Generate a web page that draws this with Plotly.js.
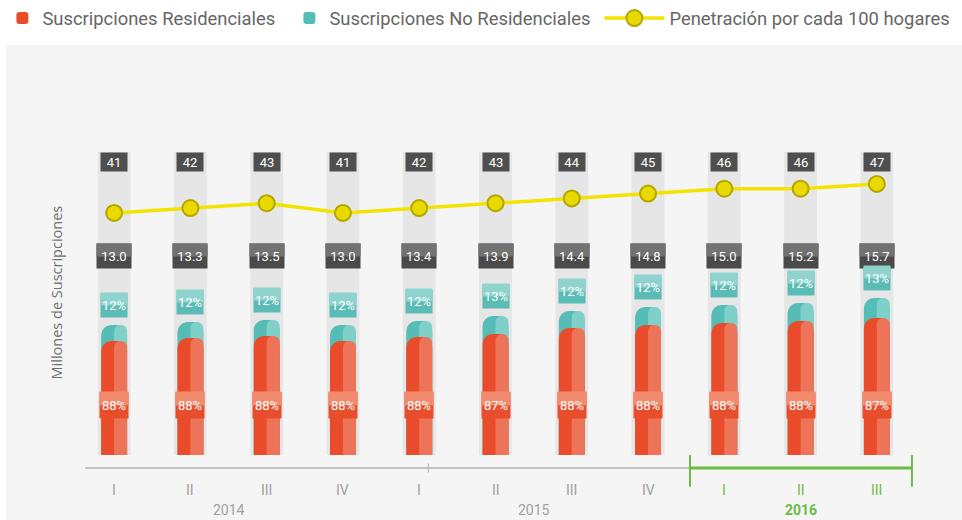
<!DOCTYPE html>
<html>
<head>
<meta charset="utf-8">
<script src="https://cdn.plot.ly/plotly-3.0.1.min.js"></script>
<style>
  html, body { margin: 0; padding: 0; background: #ffffff; }
  #chart { width: 962px; height: 520px; }
</style>
</head>
<body>
<div id="chart"></div>
<script>
// ---- data ----
const quarters = ["I", "II", "III", "IV", "I", "II", "III", "IV", "I", "II", "III"];
const years = ["2014", "2014", "2014", "2014", "2015", "2015", "2015", "2015", "2016", "2016", "2016"];
const totalSubs = [13.0, 13.3, 13.5, 13.0, 13.4, 13.9, 14.4, 14.8, 15.0, 15.2, 15.7];
const residentialSubs = [11.4, 11.7, 11.9, 11.4, 11.8, 12.1, 12.7, 13.0, 13.2, 13.4, 13.7];
const residentialPct = [88, 88, 88, 88, 88, 87, 88, 88, 88, 88, 87];
const nonResidentialPct = [12, 12, 12, 12, 12, 13, 12, 12, 12, 12, 13];
const penetration = [41, 42, 43, 41, 42, 43, 44, 45, 46, 46, 47];
const yearLabels = ["2014", "2015", "2016"];

// ---- layout helpers ----
const cats = quarters.map((q, i) => years[i] + " " + q);
const yMax = 30.3;
const barW = 0.34, halfW = 0.17, colW = 0.43;

const RED_D = "#e84c2b", RED_L = "#ee7459";
const TEAL_D = "#55bdb6", TEAL_L = "#80d0ca";
const GREEN = "#6cbb45";

const traces = [];
// gray column backgrounds
traces.push({
  type: "bar", x: cats, y: cats.map(() => yMax), width: colW, xaxis: "x",
  marker: { color: "#e6e6e6", line: { width: 0 } },
  showlegend: false, hoverinfo: "skip"
});
// teal (total) dark
traces.push({
  type: "bar", x: cats, y: totalSubs, width: barW, xaxis: "x2",
  name: "Suscripciones No Residenciales", legend: "legend2",
  marker: { color: TEAL_D, cornerradius: 10, line: { width: 0 } }
});
// teal light half
traces.push({
  type: "bar", x: cats, y: totalSubs, width: halfW, offset: 0, xaxis: "x3",
  marker: { color: TEAL_L, cornerradius: 8, line: { width: 0 } },
  showlegend: false, hoverinfo: "skip"
});
// red dark
traces.push({
  type: "bar", x: cats, y: residentialSubs, width: barW, xaxis: "x4",
  name: "Suscripciones Residenciales", legend: "legend",
  marker: { color: RED_D, cornerradius: 10, line: { width: 0 } }
});
// red light half
traces.push({
  type: "bar", x: cats, y: residentialSubs, width: halfW, offset: 0, xaxis: "x5",
  marker: { color: RED_L, cornerradius: 8, line: { width: 0 } },
  showlegend: false, hoverinfo: "skip"
});
// penetration line
traces.push({
  type: "scatter", mode: "lines+markers", x: cats, y: penetration, xaxis: "x", yaxis: "y2",
  name: "Penetración por cada 100 hogares", legend: "legend3",
  line: { color: "#f3e300", width: 3.5 },
  marker: { size: 16, color: "#e9d900", line: { color: "#b4a600", width: 2 } }
});

const annotations = [];
const boxFont = { family: "Roboto, 'Open Sans', sans-serif", size: 13, color: "#ffffff" };

// two-tone label box: bottom colour full box, lighter top half, then text
function labelBox(x, y, yref, yshift, w, h, text, topColor, botColor) {
  const base = { x: x, xref: "x", y: y, yref: yref, xanchor: "center", yanchor: "middle",
                 showarrow: false, borderpad: 0 };
  annotations.push(Object.assign({}, base, { yshift: yshift, text: " ", bgcolor: botColor,
    width: w, height: h, font: boxFont }));
  if (topColor) {
    annotations.push(Object.assign({}, base, { yshift: yshift + h / 4, text: " ",
      bgcolor: topColor, width: w, height: h / 2, font: { size: 6 } }));
  }
  annotations.push(Object.assign({}, base, { yshift: yshift, text: text,
    width: w, height: h, font: boxFont }));
}

cats.forEach((c, i) => {
  labelBox(i, 0.967, "paper", 0, 26, 18, String(penetration[i]), null, "#4f4f4f");
  labelBox(i, 0.657, "paper", 0, 34, 24, totalSubs[i].toFixed(1), "#727272", "#4a4a4a");
  labelBox(i, totalSubs[i], "y", 20, 26, 23, nonResidentialPct[i] + "%", "#8fd3ce", "#5bbcb5");
  labelBox(i, 0.165, "paper", 0, 28, 25, residentialPct[i] + "%", "#f28a6e", "#e84e2b");
  // quarter label
  annotations.push({
    x: i, xref: "x", y: -0.115, yref: "paper", xanchor: "center", yanchor: "middle",
    text: quarters[i], showarrow: false,
    font: { family: "Roboto, sans-serif", size: 14, color: years[i] === "2016" ? GREEN : "#a0a0a0" }
  });
});
// year labels (centered on their quarters)
yearLabels.forEach(yr => {
  const idx = years.map((y, i) => y === yr ? i : -1).filter(i => i >= 0);
  const mid = (idx[0] + idx[idx.length - 1]) / 2;
  annotations.push({
    x: mid, xref: "x", y: -0.182, yref: "paper", xanchor: "center", yanchor: "middle",
    text: yr === "2016" ? "<b>" + yr + "</b>" : yr, showarrow: false,
    font: { family: "Roboto, sans-serif", size: 14, color: yr === "2016" ? GREEN : "#a0a0a0" }
  });
});
// y axis title
annotations.push({
  x: -0.0232, xref: "paper", xanchor: "center", y: 0.535, yref: "paper", yanchor: "middle",
  text: "Millones de Suscripciones",
  textangle: -90, showarrow: false,
  font: { family: "'Open Sans', sans-serif", size: 14.5, color: "#707070" }
});

const shapes = [
  // light panel
  { type: "rect", xref: "paper", yref: "paper", x0: -0.0834, x1: 1.06, y0: -0.22, y1: 1.353,
    fillcolor: "#f5f5f5", line: { width: 0 }, layer: "below" },
  // gray axis line
  { type: "line", xref: "x", yref: "paper", x0: -0.38, x1: 7.55, y0: -0.043, y1: -0.043,
    line: { color: "#c4c4c4", width: 2 } },
  { type: "line", xref: "x", yref: "paper", x0: 4.12, x1: 4.12, y0: -0.028, y1: -0.058,
    line: { color: "#b0b0b0", width: 1 } },
  // green 2016 bracket
  { type: "line", xref: "x", yref: "paper", x0: 7.55, x1: 10.46, y0: -0.043, y1: -0.043,
    line: { color: GREEN, width: 3 } },
  { type: "line", xref: "x", yref: "paper", x0: 7.55, x1: 7.55, y0: 0.0, y1: -0.105,
    line: { color: GREEN, width: 2 } },
  { type: "line", xref: "x", yref: "paper", x0: 10.46, x1: 10.46, y0: 0.0, y1: -0.105,
    line: { color: GREEN, width: 2 } }
];

const hiddenX = { type: "category", range: [-0.5, 10.5], showticklabels: false, showgrid: false,
                  zeroline: false, showline: false, ticks: "", fixedrange: true };

const legendBase = {
  orientation: "h", xanchor: "left", y: 1.503, yanchor: "top",
  font: { family: "Roboto, sans-serif", size: 18.4, color: "#666666" },
  bgcolor: "rgba(0,0,0,0)"
};
const pxToPaperX = px => (px - 76) / 839;

const layout = {
  width: 962, height: 520,
  margin: { l: 76, r: 47, t: 152, b: 65, autoexpand: false },
  paper_bgcolor: "#ffffff",
  plot_bgcolor: "rgba(0,0,0,0)",
  barmode: "overlay",
  xaxis: Object.assign({}, hiddenX),
  xaxis2: Object.assign({ overlaying: "x" }, hiddenX),
  xaxis3: Object.assign({ overlaying: "x" }, hiddenX),
  xaxis4: Object.assign({ overlaying: "x" }, hiddenX),
  xaxis5: Object.assign({ overlaying: "x" }, hiddenX),
  yaxis: { range: [0, yMax], showticklabels: false, showgrid: false, zeroline: false,
           showline: false, ticks: "", fixedrange: true },
  yaxis2: { overlaying: "y", range: [-9.1, 53.6], showticklabels: false, showgrid: false,
            zeroline: false, showline: false, ticks: "", fixedrange: true },
  showlegend: true,
  legend: Object.assign({}, legendBase, { x: pxToPaperX(2.4), itemwidth: 30 }),
  legend2: Object.assign({}, legendBase, { x: pxToPaperX(289.4), itemwidth: 30 }),
  legend3: Object.assign({}, legendBase, { x: pxToPaperX(599.4), itemwidth: 60 }),
  annotations: annotations,
  shapes: shapes,
  font: { family: "Roboto, sans-serif" }
};

Plotly.newPlot("chart", traces, layout, { displayModeBar: false, staticPlot: true });
</script>
</body>
</html>
